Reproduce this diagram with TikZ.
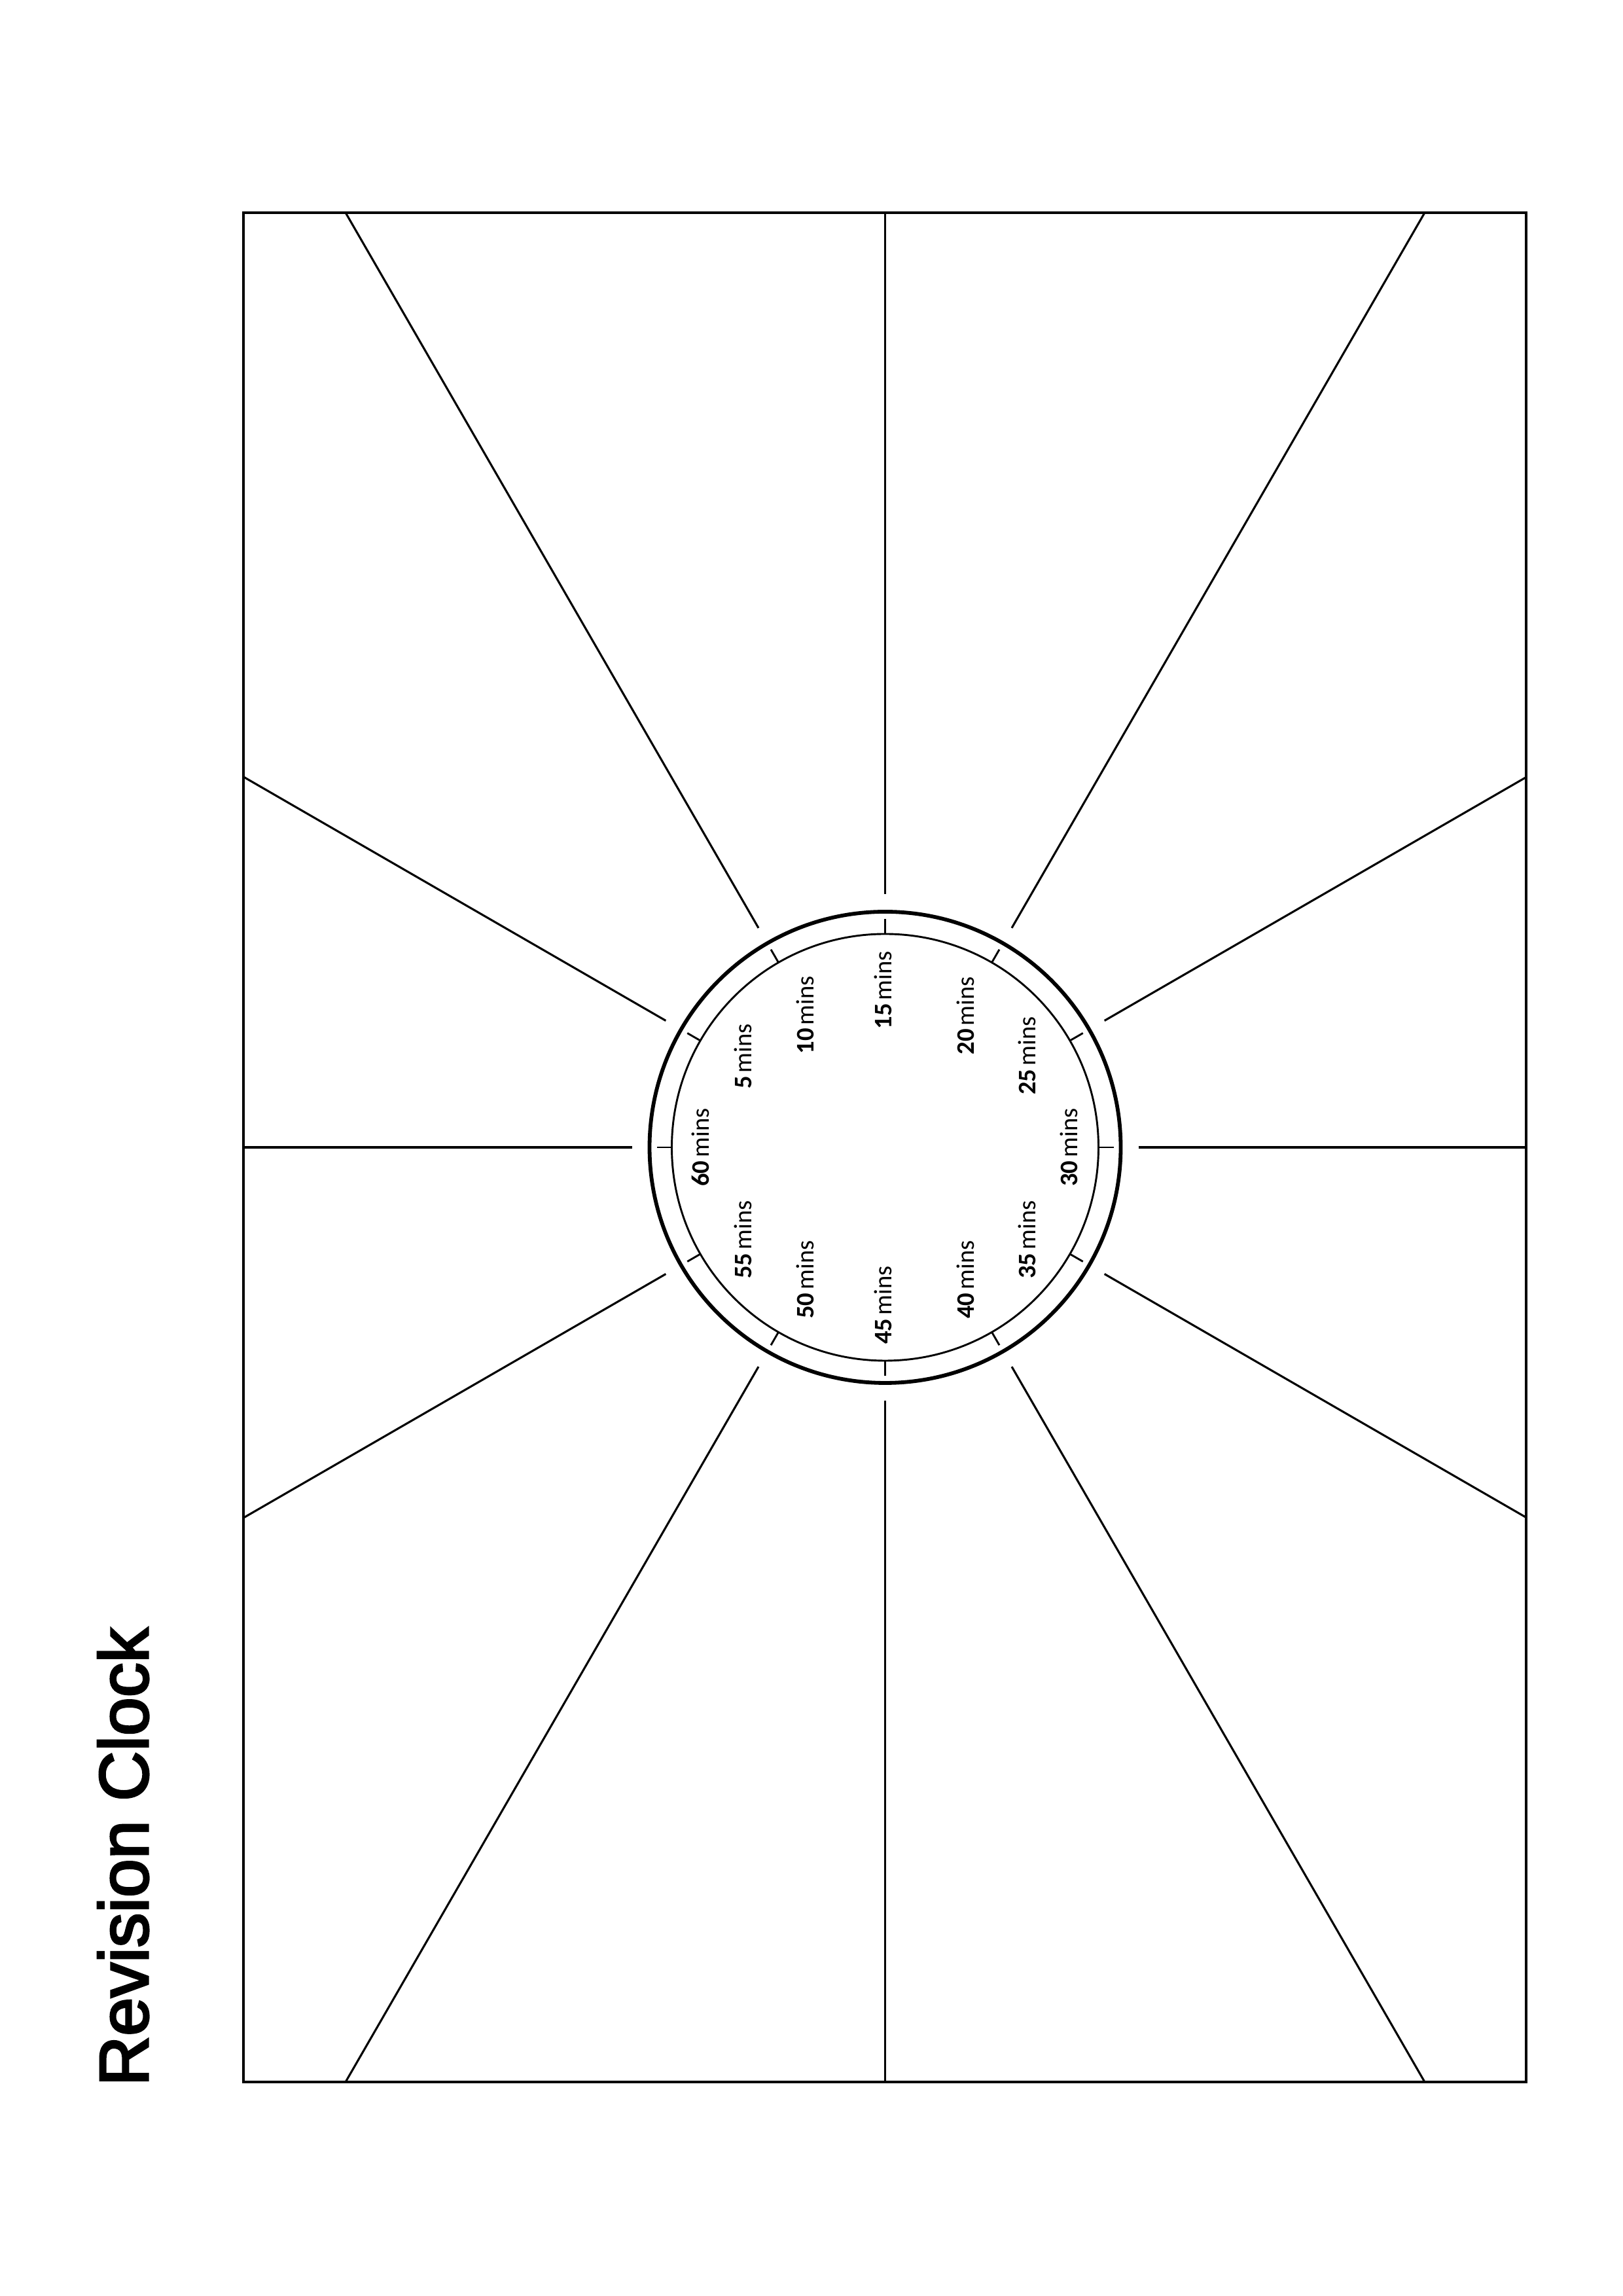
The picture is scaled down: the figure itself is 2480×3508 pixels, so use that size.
\documentclass[tikz,border=0pt]{standalone}
\usepackage{fontspec}
\newfontfamily\labfont{Carlito}
\newfontfamily\titlefont[FakeBold=3]{Liberation Sans}
\newcommand\minslabel[1]{{\bfseries #1}\kern1.2pt mins}
\begin{document}
\begin{tikzpicture}[x=0.0846774mm,y=0.0846774mm,
  frame/.style={draw=black,line width=0.85pt},
  ray/.style={draw=black,line width=0.75pt},
  outerring/.style={draw=black,line width=1.4pt},
  innerring/.style={draw=black,line width=0.7pt},
  tickmark/.style={draw=black,line width=0.7pt},
  lab/.style={rotate=90,inner sep=0pt,font=\labfont\fontsize{9.3}{11}\selectfont},
  titlestyle/.style={rotate=90,inner sep=0pt,anchor=base west,font=\titlefont\fontsize{25.5}{30}\selectfont}]
\useasboundingbox (0,0) rectangle (2480,3508);
\coordinate (c) at (1352.5,1755);
\coordinate (fsw) at (372,327);
\coordinate (fne) at (2332,3183);
\begin{scope}
  \clip (fsw) rectangle (fne);
  \foreach \a in {0,30,...,330}
    \draw[ray,shift={(c)}] (\a:387) -- (\a:1900);
\end{scope}
\draw[frame] (fsw) rectangle (fne);
\draw[outerring] (c) circle[radius=360];
\draw[innerring] (c) circle[radius=326];
\foreach \a in {0,30,...,330}
  \draw[tickmark,shift={(c)}] (\a:326) -- (\a:349);
\foreach \n/\dx/\dy in {5/-217/139,10/-122/202,15/-3/240,20/123/201,25/217/140,30/281/0,
                        35/217/-141,40/123/-202,45/-3/-241,50/-122/-202,55/-217/-141,60/-282/0}
  \node[lab] (m\n) at ([shift={(\dx,\dy)}]c) {\minslabel{\n}};
\node[titlestyle] (title) at (226,320) {Revision Clock};
\end{tikzpicture}
\end{document}
